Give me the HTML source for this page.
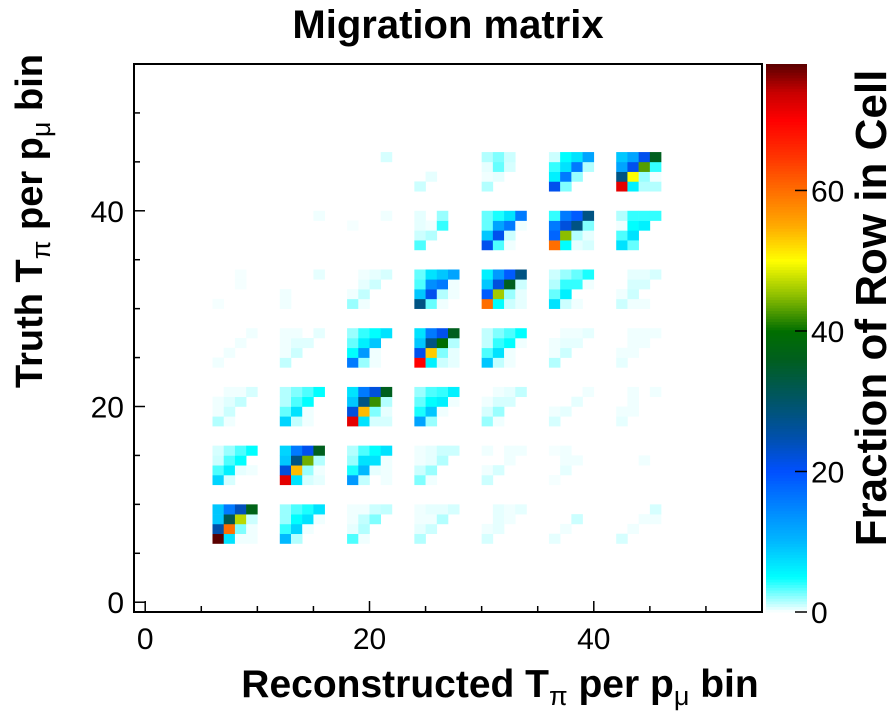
<!DOCTYPE html>
<html><head><meta charset="utf-8"><style>
html,body{margin:0;padding:0;background:#fff;}
svg text{font-family:"Liberation Sans",Arial,sans-serif;}
</style></head><body>
<svg id="chart" width="896" height="722" viewBox="0 0 896 722" xmlns="http://www.w3.org/2000/svg">
<text x="448" y="38" text-anchor="middle" font-size="40" font-weight="bold">Migration matrix</text>
<g id="cells"></g>
<rect x="134" y="64" width="628" height="548" fill="none" stroke="#000" stroke-width="2"/>
<g id="axes"></g>
<g id="cbar"></g>
<text x="500" y="697" text-anchor="middle" font-size="39" font-weight="bold">Reconstructed T<tspan font-size="27" dy="8" font-weight="normal">π</tspan><tspan dy="-8"> per p</tspan><tspan font-size="27" dy="8" font-weight="normal">μ</tspan><tspan dy="-8"> bin</tspan></text>
<text transform="translate(42,221) rotate(-90)" text-anchor="middle" font-size="38" font-weight="bold">Truth T<tspan font-size="27" dy="8" font-weight="normal">π</tspan><tspan dy="-8"> per p</tspan><tspan font-size="27" dy="8" font-weight="normal">μ</tspan><tspan dy="-8"> bin</tspan></text>
<text transform="translate(886,308) rotate(-90)" text-anchor="middle" font-size="44" font-weight="bold">Fraction of Row in Cell</text>
</svg>
<script>
const xTicks = [0, 20, 40];
const yTicks = [0, 20, 40];
const zTicks = [0, 20, 40, 60];
const zMax = 78;
const blockX = [0,1,2,3, 0,1,2,3, 0,1,2,3, 4,5,6, 4,5,6, 4,5,6, 0,1,2,3, 0,1,2,3, 4,5,6, 4,5,6, 4,5,6, 4,5,6, 1,2,3, 2,3];
const blockY = [2,2,2,2, 1,1,1,1, 0,0,0,0, 2,2,2, 1,1,1, 0,0,0, 4,4,4,4, 3,3,3,3, 6,6,6, 5,5,5, 4,4,4, 3,3,3, 5,5,5, 6,6];
const blockVals = [
 [[0,0.3,0.3,0.8],[0.3,0.6,1.2,0],[0.3,1,0,0],[1.5,0.3,0,0]],
 [[1.5,2.5,3.5,5],[1.5,3.5,5,0],[3,7,0.3,0],[8,1.2,0.3,0]],
 [[7,16,22,36],[9,28,42,1.5],[22,54,2.5,0.5],[72,7,0.8,0.8]],
 [[2,3.5,4,6],[3,5,6,0.3],[4.5,9,0.3,0],[12,2,0,0]],
 [[0.8,2,3.5,5],[1,3.5,5,0],[3.5,6,0.5,0.3],[8,0.8,0,0]],
 [[8,16,21,36],[9,28,44,1.5],[22,54,2,0.3],[72,7,0.8,0.5]],
 [[1.5,3.5,5,7],[2,7,7,0.3],[4.5,10,0.5,0.3],[13,1.2,0,0.3]],
 [[0.3,0.5,1,1],[0.3,0.5,1.5,0],[1,2,0,0],[2.5,0.3,0,0]],
 [[9,16,24,37],[9,32,47,1],[25,60,2.5,0.3],[78,7,0.3,0.3]],
 [[2,3.5,4.5,7],[2,5,7,0.3],[4,8,0.3,0],[10,1.5,0,0]],
 [[0.3,0.3,1,1.2],[0.3,1.2,2.5,0],[0.5,1.5,0,0],[3.5,0.3,0,0]],
 [[0.3,0.5,0.5,0.8],[0.3,0.3,1.5,0],[0.5,1,0,0],[1.5,0,0,0]],
 [[0,0.3,0.5,1.2],[0.3,0.8,0.8,0],[0.8,2,0,0],[2,0.3,0,0]],
 [[0,0,0,0.3],[0,0,0.5,0],[0.3,0.5,0,0],[0.8,0,0,0]],
 [[0,0.3,0,0.3],[0,0.3,0,0],[0.3,0.3,0,0],[0.5,0,0,0]],
 [[0.3,0,0.3,0.3],[0,0,0.3,0],[0.3,0.8,0,0],[1,0,0,0]],
 [[0.2,0.3,0,0],[0,0.3,0.3,0],[0,0.5,0,0],[0.2,0,0,0]],
 [[0,0,0,0],[0,0,0.3,0],[0,0,0,0],[0,0,0,0]],
 [[0,0.5,0.3,0.5],[0,0.5,0.3,0],[0.3,0.5,0,0],[0.8,0,0,0]],
 [[0,0,0,0],[0,0,1,0],[0,0.3,0,0],[0.5,0,0,0]],
 [[0,0,0,0.8],[0,0,0.3,0.3],[0,0.3,0,0],[0.8,0,0,0]],
 [[0,0,0.2,0],[0,0,0.2,0],[0,0,0,0],[0.2,0,0,0]],
 [[0,0,0,0.5],[0,0,0,0],[0.3,0,0,0],[0.3,0,0,0]],
 [[0,0.3,0.5,0.8],[0,0.5,1,0],[0.3,1.2,0,0],[2,0.3,0,0]],
 [[3,7,9,12],[3.5,14,16,0.3],[9,21,1.5,0.3],[28,3,0.3,0]],
 [[0,0,0,0.3],[0,0,0.3,0],[0,0.3,0,0],[0.3,0,0,0]],
 [[0.3,0.3,0,0.5],[0.3,0.6,0.6,0],[0.3,1,0,0],[1.2,0,0,0]],
 [[2,4,5,7],[3,6,9,0],[5,13,0.3,0],[16,2,0.3,0]],
 [[7,16,21,36],[9,28,40,1.5],[21,53,2.5,0.5],[70,6,1,0.5]],
 [[1.5,2.5,1,0],[0.5,3,0.8,0],[0.3,0.5,0,0],[1.5,0,0,0]],
 [[1,5,7,12],[4,7,16,1.5],[6,16,2,0],[21,2.5,0,0]],
 [[9,12,21,36],[12,21,43,4],[28,50,2,0.3],[72,6,1.5,1.5]],
 [[3,4.5,7,16],[3,12,16,0.3],[9,21,1,0],[21,3.5,0.3,0]],
 [[4,16,19,28],[16,22,28,2.5],[18,45,1.5,0.5],[60,5,0.5,0.8]],
 [[1.5,4,4,4],[0.3,5,6,0],[3.5,7,0,0],[7,3,0,0]],
 [[6,13,19,28],[9,22,36,1],[19,46,2,0.5],[60,5,1,0.5]],
 [[1,2,3,4.5],[1.5,4,4,0.3],[3,6,0,0],[7,1,0.3,0]],
 [[0,0.5,0.5,0.8],[0,0.8,0.8,0],[0.3,1,0,0],[1,0.3,0.3,0]],
 [[1.2,2.5,3.5,5],[1.2,4,5,0.3],[3.5,7,0.3,0],[9,1.2,0.3,0]],
 [[0,0.3,0.3,0.5],[0.3,0.5,0.5,0],[0.3,1,0,0],[1.5,0,0,0]],
 [[0,0.3,0.3,0.3],[0,0.3,0.3,0],[0.3,0.3,0,0],[0.5,0,0,0]],
 [[0,0,0,0.3],[0,0,0,0],[0,0,0,0],[0,0,0,0]],
 [[0,0,0,0.3],[0.2,0,0,0],[0,0,0,0],[0,0,0,0]],
 [[0.5,0,2,0],[0.5,0.3,4,0],[1,1.5,0,0],[3.5,0,0,0]],
 [[0,0,0,0.8],[0,0,0,0],[0,0,0,0],[0,0,0,0]],
 [[0,0,0,0],[0,0,0,0],[0,0.5,0,0],[1,0,0,0]]
];
</script>
<script>
const NS="http://www.w3.org/2000/svg";
const X0=134,X1=762,Y0=64,Y1=612,DMIN=-1,DMAX=55;
function xs(v){return X0+(v-DMIN)/(DMAX-DMIN)*(X1-X0);}
function ys(v){return Y1-(v-DMIN)/(DMAX-DMIN)*(Y1-Y0);}
const stops=[[0,[255,255,255]],[5,[0,255,255]],[10,[0,185,255]],[20,[0,80,255]],[25,[0,80,170]],[30,[0,85,105]],[36,[0,95,30]],[40,[0,110,0]],[45,[140,190,0]],[50,[255,255,0]],[55,[255,170,0]],[60,[255,110,0]],[65,[255,50,0]],[70,[255,0,0]],[74,[200,0,0]],[78,[90,0,0]]];
function col(v){
  if(v<=0)return "rgb(255,255,255)";
  v=Math.min(v,78);
  for(let i=1;i<stops.length;i++){
    if(v<=stops[i][0]){const a=stops[i-1],b=stops[i];const t=(v-a[0])/(b[0]-a[0]);
      const c=a[1].map((q,k)=>Math.round(q+(b[1][k]-q)*t));return "rgb("+c[0]+","+c[1]+","+c[2]+")";}
  }
  return "rgb(90,0,0)";
}
const cells=document.getElementById('cells');
function drawBlock(bx,by,vals){
  for(let r=0;r<4;r++){for(let c=0;c<4;c++){
    const v=vals[3-r][c]; if(!v)continue;
    const gx=6+6*bx+c, gy=6+6*by+r;
    const rc=document.createElementNS(NS,'rect');
    
    
    const x=xs(gx),y=ys(gy+1);
    rc.setAttribute('x',x.toFixed(2));rc.setAttribute('y',y.toFixed(2));
    rc.setAttribute('width',(xs(gx+1)-x+0.3).toFixed(2));rc.setAttribute('height',(ys(gy)-y+0.3).toFixed(2));
    rc.setAttribute('fill',col(v));
    cells.appendChild(rc);
  }}
}
for(let i=0;i<blockVals.length;i++) drawBlock(blockX[i],blockY[i],blockVals[i]);

const axes=document.getElementById('axes');
function line(x1,y1,x2,y2,name,parent){
  const l=document.createElementNS(NS,'line');
  
  
  l.setAttribute('x1',x1);l.setAttribute('y1',y1);l.setAttribute('x2',x2);l.setAttribute('y2',y2);
  l.setAttribute('stroke','#000');l.setAttribute('stroke-width','1.5');
  parent.appendChild(l);
}
function text(x,y,s,anchor,name,parent){
  const t=document.createElementNS(NS,'text');
  
  
  t.setAttribute('x',x);t.setAttribute('y',y);t.setAttribute('text-anchor',anchor);
  t.setAttribute('font-size','30');t.textContent=s;parent.appendChild(t);
}
for(let v=0;v<=55;v+=5){
  const big=v%20===0;
  line(xs(v),Y1,xs(v),Y1-(big?11:6),'x-tick',axes);
  line(X0,ys(v),X0+(big?11:6),ys(v),'y-tick',axes);
}
xTicks.forEach(v=>text(xs(v),Y1+37,String(v),'middle','x-tick-label',axes));
yTicks.forEach(v=>text(X0-10,ys(v)+11,String(v),'end','y-tick-label',axes));

const cb=document.getElementById('cbar');
const CX0=766,CX1=807;
function zs(v){return Y1-v/zMax*(Y1-Y0);}
for(let i=0;i<200;i++){
  const v0=i/200*zMax,v1=(i+1)/200*zMax;
  const r=document.createElementNS(NS,'rect');
  
  
  r.setAttribute('x',CX0);r.setAttribute('y',zs(v1).toFixed(2));r.setAttribute('width',CX1-CX0);
  r.setAttribute('height',(zs(v0)-zs(v1)+0.5).toFixed(2));r.setAttribute('fill',col(Math.max((v0+v1)/2,0.01)));
  cb.appendChild(r);
}
zTicks.forEach(v=>{line(CX1-12,zs(v),CX1,zs(v),'colorbar-tick',cb);text(CX1+4,zs(v)+11,String(v),'start','colorbar-tick-label',cb);});
</script>
</body></html>
